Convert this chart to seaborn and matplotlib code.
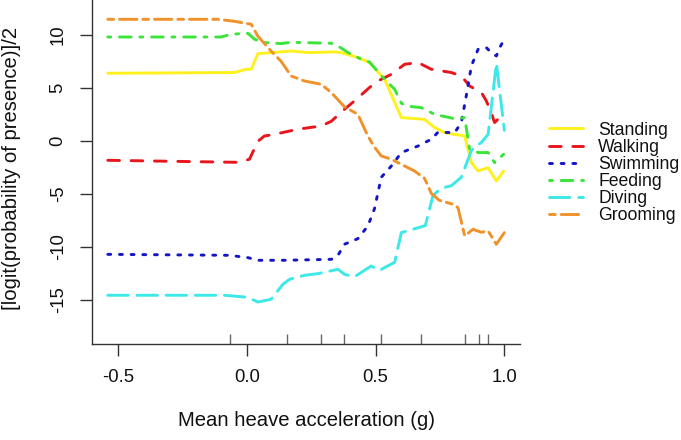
import matplotlib
matplotlib.use("Agg")
import matplotlib.pyplot as plt
import pandas as pd
import seaborn as sns

# ---------------- data ----------------
behaviours = ["Standing", "Walking", "Swimming", "Feeding", "Diving", "Grooming"]

standing_x = [-0.540, -0.048, -0.003, 0.017, 0.043, 0.101, 0.172, 0.237, 0.340, 0.366,
              0.431, 0.476, 0.535, 0.600, 0.690, 0.729, 0.768, 0.846, 0.872, 0.898,
              0.937, 0.969, 0.997]
standing_y = [6.35, 6.42, 6.73, 6.73, 8.20, 8.30, 8.45, 8.30, 8.36, 8.30,
              7.83, 7.36, 5.78, 2.17, 2.00, 1.23, 0.75, 0.43, -2.08, -2.87,
              -2.55, -3.81, -2.87]

walking_x = [-0.540, -0.035, 0.010, 0.043, 0.068, 0.107, 0.198, 0.289, 0.328, 0.379,
             0.418, 0.476, 0.509, 0.561, 0.613, 0.665, 0.716, 0.794, 0.833, 0.865,
             0.911, 0.930, 0.949, 0.962, 0.982, 0.997]
walking_y = [-1.86, -2.05, -1.76, -0.07, 0.43, 0.59, 1.07, 1.38, 1.82, 2.95,
             3.74, 5.00, 5.62, 6.25, 7.20, 7.36, 6.73, 6.42, 6.09, 5.15,
             4.53, 3.74, 2.64, 1.70, 2.17, 2.79]

swimming_x = [-0.540, -0.068, 0.004, 0.043, 0.146, 0.328, 0.354, 0.379, 0.431, 0.470,
              0.496, 0.522, 0.561, 0.600, 0.665, 0.716, 0.742, 0.807, 0.833, 0.852,
              0.872, 0.898, 0.930, 0.949, 0.969, 0.982, 1.000]
swimming_y = [-10.73, -10.82, -11.04, -11.29, -11.29, -11.20, -10.82, -9.78, -9.25, -8.06,
              -6.40, -3.46, -2.40, -1.13, -0.51, 0.12, 0.78, 0.75, 1.70, 4.21,
              7.04, 8.61, 8.77, 8.30, 7.98, 8.77, 9.56]

feeding_x = [-0.540, -0.100, -0.061, 0.004, 0.030, 0.068, 0.133, 0.172, 0.328, 0.354,
             0.393, 0.444, 0.476, 0.535, 0.574, 0.600, 0.626, 0.677, 0.729, 0.807,
             0.846, 0.865, 0.898, 0.937, 0.962, 0.997]
feeding_y = [9.77, 9.77, 10.03, 10.12, 9.56, 9.25, 9.15, 9.27, 9.18, 8.92,
             8.30, 7.67, 7.42, 5.78, 4.84, 3.52, 3.24, 3.11, 2.48, 2.06,
             2.17, -0.82, -1.13, -1.13, -2.08, -1.29]

diving_x = [-0.540, -0.087, 0.004, 0.043, 0.094, 0.140, 0.166, 0.224, 0.276, 0.354,
            0.379, 0.418, 0.483, 0.515, 0.574, 0.600, 0.651, 0.693, 0.723, 0.755,
            0.794, 0.833, 0.872, 0.911, 0.937, 0.969, 1.000]
diving_y = [-14.59, -14.59, -14.78, -15.23, -14.97, -13.56, -13.08, -12.71, -12.55, -12.14,
            -12.61, -12.85, -11.83, -12.24, -11.48, -8.68, -8.32, -8.02, -5.16, -4.50,
            -4.26, -3.46, -0.92, -0.16, 0.59, 7.29, 0.97]

grooming_x = [-0.540, -0.113, -0.048, 0.017, 0.043, 0.094, 0.133, 0.172, 0.224, 0.289,
              0.328, 0.379, 0.431, 0.470, 0.496, 0.522, 0.561, 0.613, 0.651, 0.690,
              0.716, 0.747, 0.801, 0.820, 0.846, 0.878, 0.911, 0.937, 0.969, 1.000]
grooming_y = [11.44, 11.44, 11.25, 10.97, 9.84, 8.45, 7.48, 6.09, 5.62, 5.31,
              4.53, 3.19, 2.48, 0.43, -0.63, -1.45, -1.76, -2.40, -2.87, -3.56,
              -4.97, -5.63, -6.01, -6.32, -9.00, -8.37, -8.65, -8.53, -9.78, -8.68]

rug_x = [-0.065, 0.155, 0.289, 0.379, 0.522, 0.675, 0.846, 0.900, 0.937]
x_ticks = [-0.5, 0.0, 0.5, 1.0]
x_tick_labels = ["-0.5", "0.0", "0.5", "1.0"]
y_ticks = [-15, -10, -5, 0, 5, 10]
y_tick_labels = ["-15", "-10", "-5", "0", "5", "10"]

x_label = "Mean heave acceleration (g)"
y_label = "[logit(probability of presence)]/2"

series_x = [standing_x, walking_x, swimming_x, feeding_x, diving_x, grooming_x]
series_y = [standing_y, walking_y, swimming_y, feeding_y, diving_y, grooming_y]

# ---------------- styling ----------------
colors = {"Standing": "#FFF01E", "Walking": "#E8161C", "Swimming": "#1414C8",
          "Feeding": "#3AE43A", "Diving": "#3CE8E8", "Grooming": "#F0922B"}
# R line types: solid, dashed "44", dotted "13", dotdash "1343", longdash "73", twodash "2262"
linestyles = {"Standing": "-", "Walking": (0, (4, 4)), "Swimming": (0, (1, 3)),
              "Feeding": (0, (1, 3, 4, 3)), "Diving": (0, (7, 3)),
              "Grooming": (0, (2, 2, 6, 2))}

sns.set_style("ticks")
plt.rcParams["font.family"] = ["Liberation Sans", "DejaVu Sans"]

fig = plt.figure(figsize=(6.81, 4.40), dpi=100)
ax = fig.add_axes([0.135, 0.2193, 0.6289, 0.7807])

for name, xs, ys in zip(behaviours, series_x, series_y):
    df = pd.DataFrame({"x": xs, "y": ys})
    sns.lineplot(data=df, x="x", y="y", ax=ax, estimator=None, sort=False,
                 color=colors[name], linewidth=2.1, linestyle=linestyles[name],
                 dash_capstyle="round", solid_capstyle="round", label=name,
                 legend=False)

ax.set_xlim(-0.6016, 1.0616)
ax.set_ylim(-19.14, 13.26)

ax.set_xticks(x_ticks)
ax.set_xticklabels(x_tick_labels)
ax.set_yticks(y_ticks)
ax.set_yticklabels(y_tick_labels, rotation=90, va="center")
ax.set_xticks(rug_x, minor=True)

ax.tick_params(axis="both", which="major", direction="out", length=8.6, width=1.0,
               color="#333333", labelsize=13.3, pad=9.6, labelcolor="#111111")
ax.tick_params(axis="x", which="minor", direction="in", length=7.2, width=1.0,
               color="#666666")

for side in ("top", "right"):
    ax.spines[side].set_visible(False)
for side in ("left", "bottom"):
    ax.spines[side].set_color("#333333")
    ax.spines[side].set_linewidth(1.0)

ax.set_xlabel(x_label, fontsize=14.6, color="#111111")
ax.set_ylabel(y_label, fontsize=14.6, color="#111111")
ax.xaxis.set_label_coords(0.5, -0.196)
ax.yaxis.set_label_coords(-0.166, 0.51)

handles, labels = ax.get_legend_handles_labels()
leg = fig.legend(handles, labels, loc="center left", bbox_to_anchor=(549 / 681, 1 - 173 / 440),
                 frameon=False, fontsize=12.7, handlelength=1.93, handletextpad=0.85,
                 labelspacing=0.01, borderpad=0, borderaxespad=0)
for t in leg.get_texts():
    t.set_color("#111111")

fig.savefig("out.png", dpi=100)
